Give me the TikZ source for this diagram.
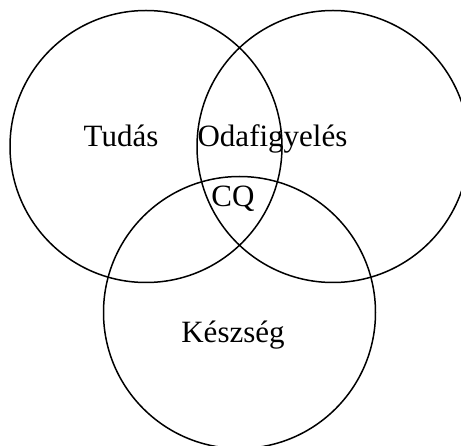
\documentclass[tikz,border=0pt]{standalone}
\usepackage{fontspec}
\setmainfont{Liberation Serif}
\begin{document}
\begin{tikzpicture}[x=1pt,y=-1pt,
  venn/.style={draw=black,line width=1.5pt,circle,inner sep=0pt,minimum size=272pt},
  lbl/.style={anchor=base,inner sep=0pt,font=\fontsize{31}{36}\selectfont}]
\useasboundingbox (0,0) rectangle (461,446);
\clip (0,0) rectangle (461,446);
\node[venn] (tudas) at (146,146.5) {};
\node[venn] (odaf) at (333,146.5) {};
\node[venn] (kesz) at (239.5,312.5) {};
\node[lbl] (ltudas) at (121,147) {Tudás};
\node[lbl] (lodaf) at (272.5,147) {Odafigyelés};
\node[lbl] (lcq) at (233,207) {CQ};
\node[lbl] (lkesz) at (233,343) {Készség};
\end{tikzpicture}
\end{document}
